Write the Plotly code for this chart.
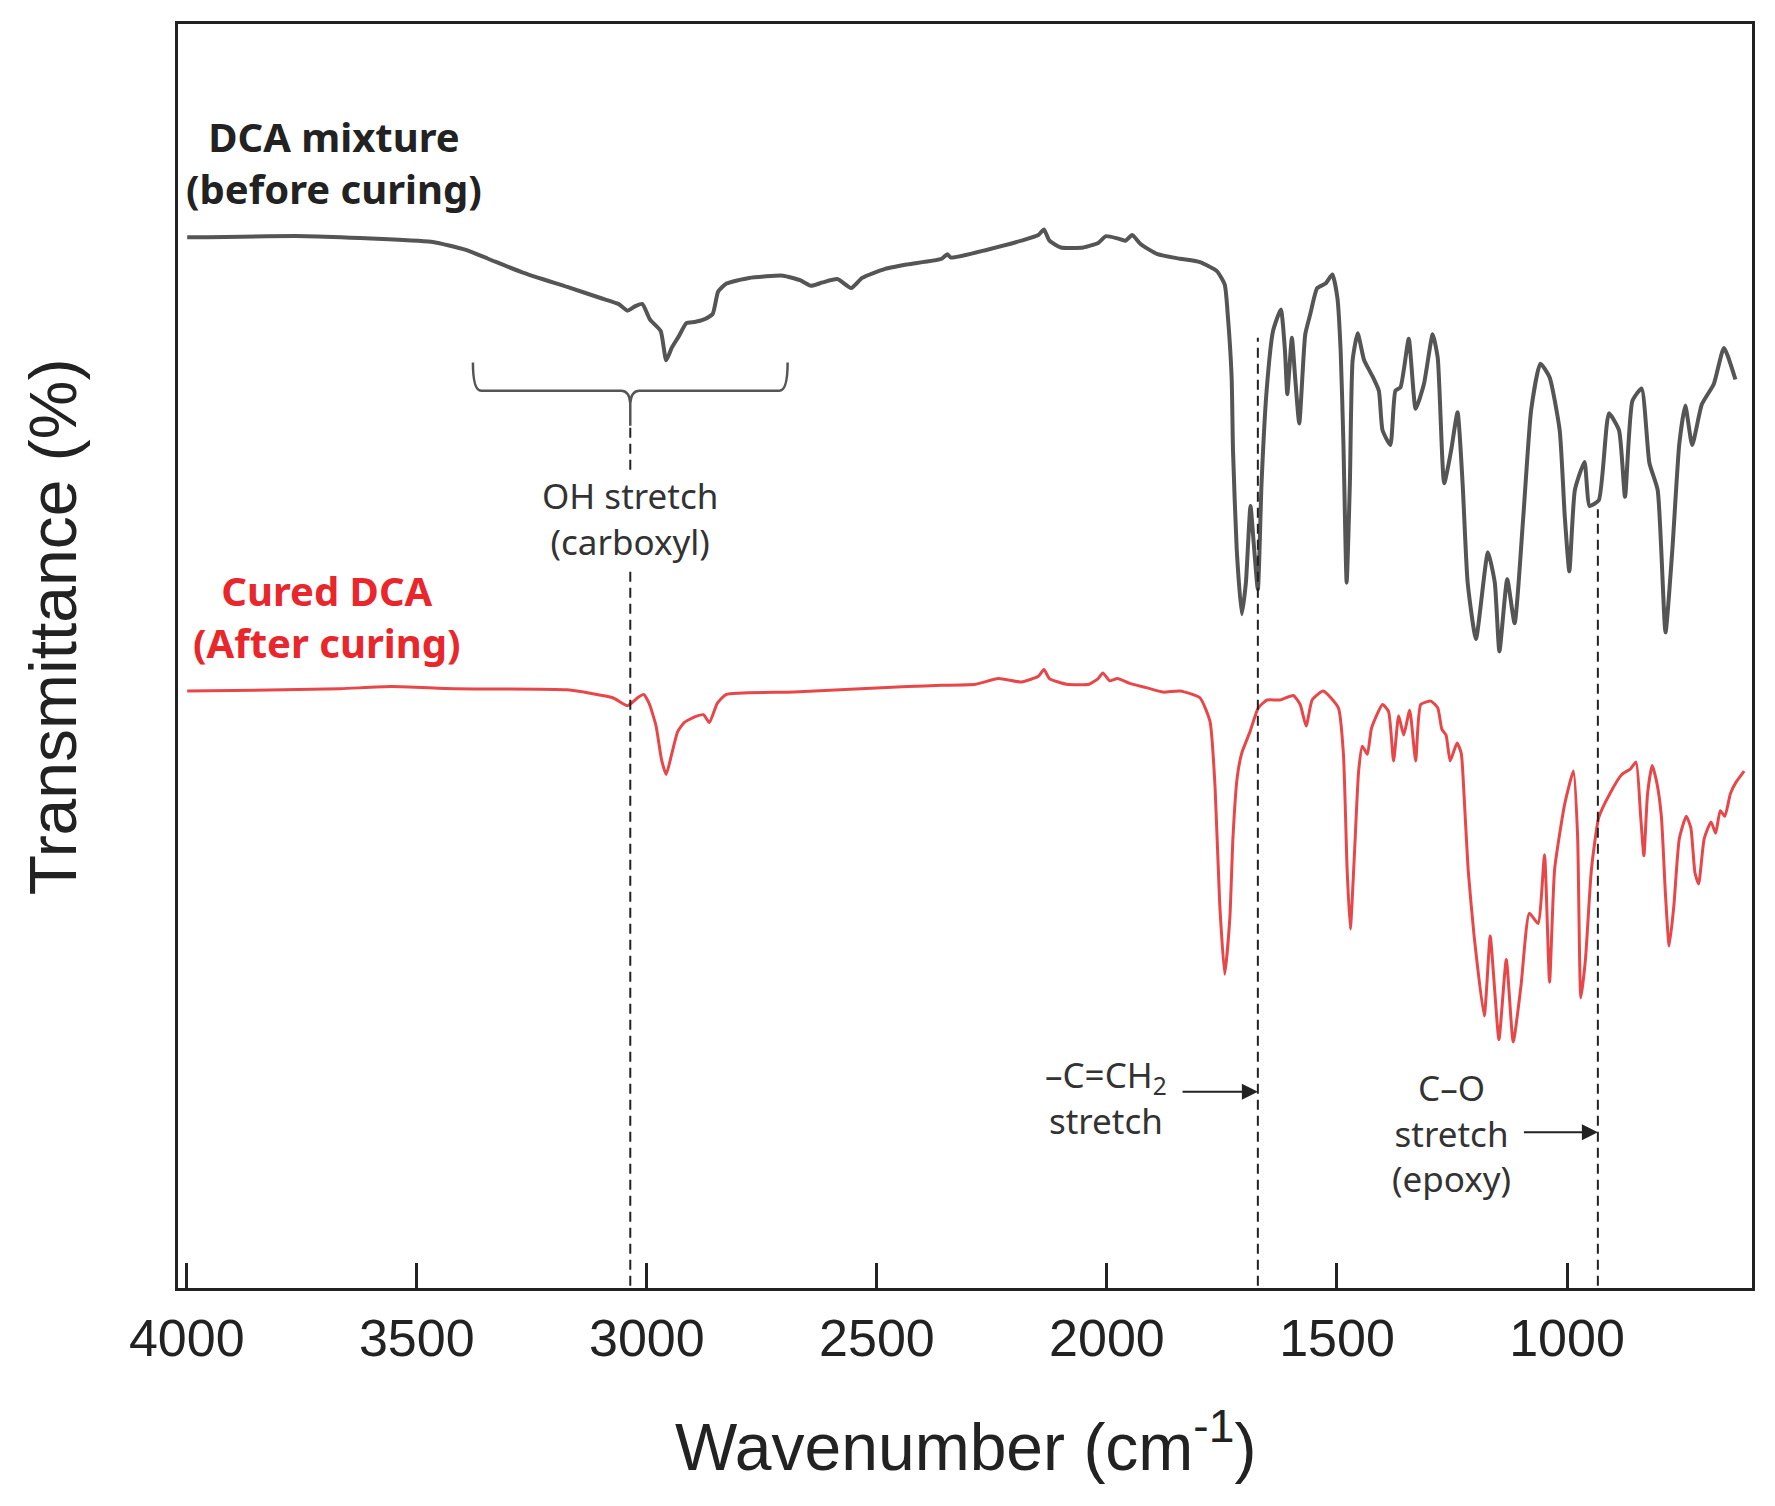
import plotly.graph_objects as go

# FTIR spectra, values (transmittance in arbitrary units)
black_wn = [3999, 3740, 3469, 3395, 3345, 3271, 3173, 3099, 3062, 3042,
            3025, 3010, 2993, 2970, 2958, 2946, 2931, 2914, 2896, 2877,
            2857, 2845, 2827, 2778, 2704, 2667, 2643, 2618, 2586, 2556,
            2532, 2482, 2433, 2359, 2347, 2339, 2260, 2186, 2149, 2137,
            2125, 2100, 2051, 2019, 2002, 1977, 1960, 1945, 1927, 1890,
            1841,
            1798, 1761, 1744, 1737, 1729, 1726, 1718, 1707, 1698, 1688,
            1681, 1672, 1664, 1653, 1639, 1622, 1613, 1608, 1598, 1591,
            1582, 1569, 1558, 1543, 1525, 1510, 1499, 1492, 1486, 1479,
            1472, 1466, 1455, 1441, 1423, 1409, 1401, 1384, 1373,
            1362, 1344, 1329, 1311, 1292, 1281, 1267, 1252, 1238, 1227,
            1216, 1198, 1172, 1157, 1147, 1130, 1114, 1095, 1078, 1058,
            1038, 1016, 1005, 995, 983, 962, 951, 931, 909, 887,
            874, 858, 838, 821, 803, 786, 771, 756, 743, 728,
            707, 681, 659, 634]
black_t = [93.1, 93.2, 92.7, 92.0, 91.2, 90.0, 88.7, 87.7, 87.2, 86.6,
           87.0, 87.2, 85.8, 84.8, 82.2, 83.3, 84.3, 85.5, 85.6, 85.8,
           86.3, 88.3, 89.0, 89.5, 89.7, 89.3, 88.8, 89.1, 89.4, 88.6,
           89.5, 90.3, 90.7, 91.2, 91.6, 91.3, 92.0, 92.8, 93.3, 93.8,
           92.8, 92.2, 92.2, 92.6, 93.2, 93.0, 92.8, 93.3, 92.5, 91.6,
           91.2,
           90.9, 90.1, 88.9, 86.0, 80.7, 74.2, 65.5, 59.7, 62.5, 69.3,
           66.0, 61.9, 71.3, 79.5, 84.8, 86.7, 83.0, 79.2, 84.2, 80.7,
           76.6, 84.5, 86.3, 88.6, 89.0, 89.8, 87.7, 83.0, 74.8, 62.5,
           71.3, 82.2, 84.6, 82.2, 80.8, 79.5, 76.0, 74.7, 79.5,
           79.8, 84.1, 77.9, 80.1, 84.5, 82.4, 71.3, 74.2, 77.6, 71.3,
           62.5, 57.5, 65.2, 62.5, 56.4, 62.8, 58.9, 68.4, 77.8, 81.9,
           80.7, 76.0, 68.4, 63.5, 70.7, 73.2, 69.3, 69.8, 77.5, 76.0,
           70.1, 78.6, 79.7, 73.1, 70.7, 58.1, 65.5, 74.8, 78.2, 74.7,
           78.3, 80.1, 83.3, 80.5]

red_wn = [3999, 3789, 3666, 3555, 3419, 3173, 3074, 3042, 3020, 3007,
          2995, 2980, 2968, 2958, 2946, 2933, 2919, 2896, 2877, 2864,
          2847, 2827, 2680, 2433, 2359, 2285, 2236, 2186, 2149, 2137,
          2125, 2088, 2039, 2019, 2009, 1994, 1977, 1952, 1915, 1878,
          1841,
          1798, 1776, 1765, 1755, 1744, 1733, 1726, 1717, 1707, 1689,
          1671, 1652, 1624, 1595, 1580, 1567, 1554, 1530, 1497, 1486,
          1478, 1471, 1462, 1453, 1445, 1434, 1425, 1401, 1388, 1377,
          1366, 1355, 1342, 1329, 1318, 1296, 1281, 1272, 1263, 1254,
          1239, 1230, 1224, 1215, 1202, 1180, 1167, 1158, 1148, 1132,
          1117, 1100, 1082, 1063, 1049, 1038, 1027, 1005, 986, 977,
          970, 960, 947, 931, 907, 881,
          862, 850, 840, 833, 825, 815, 805, 795, 786, 778,
          768, 756, 741, 731, 722, 714, 702, 687, 677, 667,
          657, 645, 633, 615]
red_t = [52.9, 53.0, 53.1, 53.3, 53.1, 53.0, 52.3, 51.6, 52.3, 52.6,
         51.8, 49.8, 46.8, 45.5, 47.3, 49.3, 50.1, 50.6, 50.8, 50.1,
         51.8, 52.6, 52.8, 53.3, 53.4, 53.5, 54.0, 53.7, 54.2, 54.8,
         54.0, 53.5, 53.5, 54.0, 54.5, 53.8, 54.0, 53.6, 53.2, 52.8,
         52.9,
         52.3, 50.2, 44.4, 34.1, 27.8, 32.7, 40.0, 45.2, 47.4, 49.3,
         51.4, 52.1, 52.1, 52.5, 51.7, 49.8, 52.1, 52.9, 51.4, 47.3,
         37.1, 31.8, 38.5, 45.8, 48.0, 47.3, 49.6, 51.7, 51.1, 46.7,
         50.7, 49.0, 51.2, 46.7, 51.7, 52.0, 51.4, 49.5, 49.0, 46.7,
         48.3, 47.4, 43.8, 37.1, 31.2, 24.1, 31.2, 26.8, 22.0, 29.1,
         21.8, 26.8, 33.2, 32.3, 38.4, 27.1, 37.1, 42.9, 45.8, 40.0,
         25.7, 29.1, 37.1, 41.7, 43.8, 45.5,
         46.0, 46.6, 41.8, 38.3, 43.8, 46.3, 44.8, 41.8, 34.8, 30.3,
         33.8, 39.8, 41.8, 40.8, 36.8, 35.8, 39.8, 41.3, 40.3, 42.3,
         41.8, 43.8, 44.8, 45.8]

x_ticks = [4000, 3500, 3000, 2500, 2000, 1500, 1000]

# marked bands (wavenumber, top of dashed guide)
oh_wn, oh_top = 3036, 76.4
vinyl_wn, vinyl_top = 1672, 84.2
epoxy_wn, epoxy_top = 933, 69.0

assert len(black_wn) == len(black_t)
assert len(red_wn) == len(red_t)

fig = go.Figure()
fig.add_trace(go.Scatter(x=black_wn, y=black_t, mode='lines',
                         line=dict(color='#555555', width=4, shape='spline', smoothing=0.5),
                         hoverinfo='skip'))
fig.add_trace(go.Scatter(x=red_wn, y=red_t, mode='lines',
                         line=dict(color='#e8474a', width=3, shape='spline', smoothing=0.5),
                         hoverinfo='skip'))

dash = dict(color='#222222', width=2, dash='10px,6px')
for wn, top in [(oh_wn, oh_top), (vinyl_wn, vinyl_top), (epoxy_wn, epoxy_top)]:
    fig.add_shape(type='line', x0=wn, x1=wn, y0=0.2, y1=top, xref='x', yref='y', line=dash)

# curly bracket over the OH band
fig.add_shape(type='path', xref='x', yref='y',
              path=('M 3378,82 Q 3378,79.5 3360,79.5 L 3056,79.5 Q 3038,79.5 3036,78.4 '
                    'Q 3034,79.5 3016,79.5 L 2712,79.5 Q 2694,79.5 2694,82 '
                    'M 3036,78.4 L 3036,76.4'),
              line=dict(color='#555555', width=2.5))

lab = dict(family='Noto Sans, DejaVu Sans, sans-serif', size=35, color='#333333')
bold = dict(family='Noto Sans, DejaVu Sans, sans-serif', size=40, color='#222222')

fig.add_annotation(x=3680, y=99.7, text='<b>DCA mixture<br>(before curing)</b>',
                   showarrow=False, font=bold, align='center')
fig.add_annotation(x=3695, y=59.5, text='<b>Cured DCA<br>(After curing)</b>',
                   showarrow=False, font=dict(bold, color='#e8262b'), align='center')
fig.add_annotation(x=oh_wn, y=68.2, text='OH stretch<br>(carboxyl)', showarrow=False,
                   font=lab, align='center', bgcolor='white')
fig.add_annotation(x=2002, y=16.9, text='–C=CH<sub>2</sub><br>stretch', showarrow=False,
                   font=lab, align='center')
fig.add_annotation(x=1251, y=13.7, text='C–O<br>stretch<br>(epoxy)', showarrow=False,
                   font=lab, align='center')
fig.add_annotation(x=vinyl_wn, y=17.4, ax=1839, ay=17.4, xref='x', yref='y',
                   axref='x', ayref='y', text='', showarrow=True, arrowhead=2,
                   arrowsize=1.6, arrowwidth=2, arrowcolor='#222222')
fig.add_annotation(x=epoxy_wn, y=13.8, ax=1097, ay=13.8, xref='x', yref='y',
                   axref='x', ayref='y', text='', showarrow=True, arrowhead=2,
                   arrowsize=1.6, arrowwidth=2, arrowcolor='#222222')

title_font = dict(family='Liberation Sans, Arial, sans-serif', size=66, color='#222222')
fig.add_annotation(xref='paper', yref='paper', x=-0.104, y=0.523, textangle=-90,
                   text='Transmittance (%)', showarrow=False, font=title_font)
fig.add_annotation(xref='paper', yref='paper', x=0.5, y=-0.157,
                   text='Wavenumber (cm<sup>-1</sup>)', showarrow=False, font=title_font)

fig.update_layout(
    width=1775, height=1506,
    margin=dict(l=170, r=31, t=16, b=226),
    paper_bgcolor='white', plot_bgcolor='white',
    showlegend=False,
    xaxis=dict(range=[4019, 598], tickvals=x_ticks, ticks='inside', ticklen=25,
               tickwidth=3, tickcolor='#222222', showline=True, linewidth=3,
               linecolor='#222222', mirror=True, showgrid=False, zeroline=False,
               tickfont=dict(family='Liberation Sans, Arial, sans-serif', size=52,
                             color='#222222'),
               ticklabelstandoff=3),
    yaxis=dict(range=[0, 112], showticklabels=False, ticks='', showline=True,
               linewidth=3, linecolor='#222222', mirror=True, showgrid=False,
               zeroline=False),
)

fig.write_html('out.html')
